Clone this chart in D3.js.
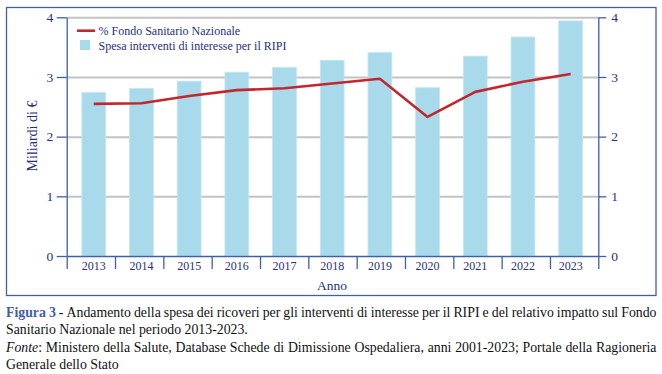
<!DOCTYPE html>
<html>
<head>
<meta charset="utf-8">
<script src="https://cdn.jsdelivr.net/npm/d3@7"></script>
<style>
  body { margin: 0; background: #fff; }
  svg { display: block; }
</style>
</head>
<body>
<svg id="chart"></svg>
<script>
// data
const years = ["2013", "2014", "2015", "2016", "2017", "2018", "2019", "2020", "2021", "2022", "2023"];
const spesa = [2.74, 2.81, 2.93, 3.08, 3.16, 3.28, 3.41, 2.82, 3.35, 3.67, 3.94];
const fondoPct = [2.55, 2.56, 2.68, 2.78, 2.81, 2.89, 2.97, 2.33, 2.75, 2.92, 3.05];
const yTicks = [0, 1, 2, 3, 4];
const legendLabels = ["% Fondo Sanitario Nazionale", "Spesa interventi di interesse per il RIPI"];
const captionLines = [
    "**Figura 3** - Andamento della spesa dei ricoveri per gli interventi di interesse per il RIPI e del relativo impatto sul Fondo",
    "Sanitario Nazionale nel periodo 2013-2023.",
    "_Fonte_: Ministero della Salute, Database Schede di Dimissione Ospedaliera, anni 2001-2023; Portale della Ragioneria",
    "Generale dello Stato"
];

const W = 662, H = 374;
const FONT = "Liberation Serif";
const plot = { left: 66.7, right: 598.3, top: 17.3, bottom: 256 };
const axisBlue = "#3f5fa9", navy = "#28307c";

const svg = d3.select("#chart").attr("width", W).attr("height", H).attr("font-family", FONT);

// frame
svg.append("rect")
    .attr("x", 6.5).attr("y", 7.5).attr("width", 649.5).attr("height", 288)
    .attr("fill", "none").attr("stroke", axisBlue).attr("stroke-width", 1.3);

const y = d3.scaleLinear().domain([0, 4]).range([plot.bottom, plot.top]);
// bars sit on a slightly narrower pitch than the axis ticks
const x = d3.scaleBand().domain(years).range([69.9, 594.5]).padding(0);
const xTick = d3.scaleLinear().domain([0, years.length]).range([plot.left, plot.right]);

// grid
svg.append("g")
    .attr("transform", `translate(${plot.left},0)`)
    .call(d3.axisLeft(y).tickValues([1, 2, 3, 4]).tickSize(-(plot.right - plot.left)).tickFormat(""))
    .call(g => g.select(".domain").remove())
    .call(g => g.selectAll("line").attr("stroke", "#c3c3c3").attr("stroke-width", 2));

// bars
const bw = x.bandwidth();
svg.append("g").selectAll("rect")
    .data(spesa)
    .join("rect")
    .attr("x", (d, i) => x(years[i]) + bw * 0.25)
    .attr("y", d => y(d))
    .attr("width", bw * 0.5)
    .attr("height", d => y(0) - y(d))
    .attr("fill", "#a8daec")
    .attr("stroke", "#c4e7f3")
    .attr("stroke-width", 0.8);

// line
const line = d3.line()
    .x((d, i) => x(years[i]) + bw / 2)
    .y(d => y(d));
svg.append("path")
    .datum(fondoPct)
    .attr("d", line)
    .attr("fill", "none")
    .attr("stroke", "#c1272d")
    .attr("stroke-width", 2.6)
    .attr("stroke-linejoin", "round");

// axes
function styleAxis(g) {
    g.attr("font-family", FONT).attr("font-size", 13.5);
    g.selectAll(".domain, line").attr("stroke", axisBlue).attr("stroke-width", 1.3);
    g.selectAll("text").attr("fill", navy);
}
svg.append("g")
    .attr("transform", `translate(${plot.left},0)`)
    .call(d3.axisLeft(y).tickValues(yTicks).tickFormat(d3.format("d")).tickSize(10).tickSizeOuter(0).tickPadding(3.5))
    .call(styleAxis);
svg.append("g")
    .attr("transform", `translate(${plot.right},0)`)
    .call(d3.axisRight(y).tickValues(yTicks).tickFormat(d3.format("d")).tickSize(8).tickSizeOuter(0).tickPadding(5))
    .call(styleAxis);
svg.append("g")
    .attr("transform", `translate(0,${plot.bottom})`)
    .call(d3.axisBottom(xTick).tickValues(d3.range(years.length + 1)).tickSize(13).tickSizeOuter(0).tickFormat(""))
    .call(styleAxis);

svg.append("g").selectAll("text")
    .data(years)
    .join("text")
    .attr("x", d => x(d) + bw / 2)
    .attr("y", 270)
    .attr("text-anchor", "middle")
    .attr("font-size", 12)
    .attr("fill", navy)
    .text(d => d);

svg.append("text")
    .attr("x", 332).attr("y", 289.5)
    .attr("text-anchor", "middle")
    .attr("font-size", 13.5)
    .attr("fill", navy)
    .text("Anno");

svg.append("text")
    .attr("transform", "translate(37,136) rotate(-90)")
    .attr("text-anchor", "middle")
    .attr("font-size", 14)
    .attr("fill", navy)
    .text("Miliardi di €");

// legend
const lg = svg.append("g");
lg.append("line").attr("x1", 77).attr("x2", 95).attr("y1", 30.7).attr("y2", 30.7)
    .attr("stroke", "#c1272d").attr("stroke-width", 2.6);
lg.append("rect").attr("x", 80).attr("y", 40).attr("width", 10).attr("height", 10).attr("fill", "#a8daec");
lg.selectAll("text")
    .data(legendLabels)
    .join("text")
    .attr("x", 98.5)
    .attr("y", (d, i) => 35 + i * 14.5)
    .attr("font-size", 12)
    .attr("fill", navy)
    .text(d => d);

// caption, justified word by word
function parseWords(str) {
    let bold = false, ital = false;
    const words = [];
    str.split(" ").forEach(tok => {
        const pieces = [];
        let buf = "";
        let i = 0;
        while (i < tok.length) {
            if (tok.startsWith("**", i)) {
                if (buf) pieces.push({ t: buf, b: bold, i: ital });
                buf = ""; bold = !bold; i += 2;
            } else if (tok[i] === "_") {
                if (buf) pieces.push({ t: buf, b: bold, i: ital });
                buf = ""; ital = !ital; i += 1;
            } else { buf += tok[i]; i += 1; }
        }
        if (buf) pieces.push({ t: buf, b: bold, i: ital });
        words.push(pieces);
    });
    return words;
}

const capLeft = 6, capRight = 656.5;
const capY = [316.5, 333.5, 352, 369];

// size the caption font so the second (unjustified) line ends where it does in the figure
const probe = svg.append("text").attr("font-size", 100).style("font-family", FONT).text(captionLines[1]);
const capSize = 100 * (248 - capLeft) / probe.node().getComputedTextLength();
probe.remove();

captionLines.forEach((str, li) => {
    const justify = li === 0 || li === 2;
    const words = parseWords(str);
    const nodes = words.map(pieces => {
        const t = svg.append("text").attr("y", capY[li]).attr("font-size", capSize)
            .style("font-family", FONT).attr("fill", "#111");
        pieces.forEach(p => {
            t.append("tspan")
                .attr("font-weight", p.b ? "bold" : null)
                .attr("font-style", p.i ? "italic" : null)
                .attr("fill", p.b ? axisBlue : null)
                .text(p.t);
        });
        return t;
    });
    const widths = nodes.map(n => n.node().getComputedTextLength());
    const total = d3.sum(widths);
    const gap = justify ? (capRight - capLeft - total) / (nodes.length - 1) : capSize * 0.25;
    let cx = capLeft;
    nodes.forEach((n, i) => {
        n.attr("x", cx);
        cx += widths[i] + gap;
    });
});

svg.selectAll("text").style("font-family", FONT);
</script>
</body>
</html>
